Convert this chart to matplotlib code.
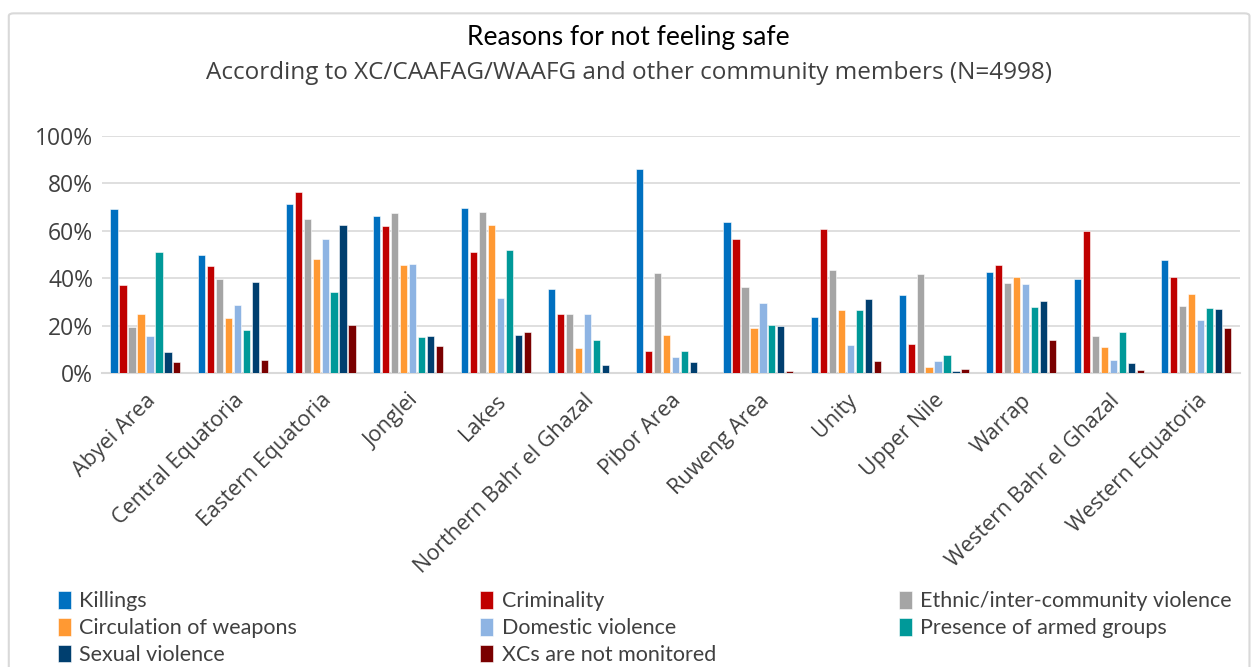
import matplotlib.pyplot as plt
import numpy as np
from matplotlib.patches import FancyBboxPatch

# regions on the x axis
regions = ['Abyei Area', 'Central Equatoria', 'Eastern Equatoria', 'Jonglei', 'Lakes',
           'Northern Bahr el Ghazal', 'Pibor Area', 'Ruweng Area', 'Unity', 'Upper Nile',
           'Warrap', 'Western Bahr el Ghazal', 'Western Equatoria']

# % of respondents per reason
killings   = [69.3, 49.7, 71.1, 66.1, 69.6, 35.4, 86.1, 63.6, 23.6, 32.8, 42.6, 39.7, 47.8]
criminal   = [37.0, 45.2, 76.4, 62.1, 50.9, 24.8,  9.4, 56.6, 60.6, 12.3, 45.6, 59.9, 40.5]
ethnic     = [19.6, 39.7, 64.9, 67.3, 67.9, 24.8, 42.1, 36.3, 43.6, 41.8, 38.1, 15.6, 28.5]
weapons    = [25.1, 23.3, 48.0, 45.5, 62.3, 10.5, 16.0, 19.1, 26.6,  2.5, 40.4, 10.9, 33.4]
domestic   = [15.8, 28.6, 56.5, 45.9, 31.7, 24.8,  6.9, 29.5, 12.0,  5.2, 37.5,  5.5, 22.6]
armed      = [50.9, 18.2, 34.1, 15.3, 51.8, 14.0,  9.4, 20.2, 26.6,  7.8, 27.8, 17.4, 27.5]
sexual     = [ 8.8, 38.4, 62.5, 15.6, 16.2,  3.4,  4.9, 19.8, 31.3,  0.8, 30.4,  4.2, 27.1]
monitored  = [ 4.9,  5.5, 20.2, 11.4, 17.3,  0.0,  0.0,  0.8,  5.2,  1.7, 13.9,  1.3, 19.1]

series = [
    ('Killings', killings, '#0070C0'),
    ('Criminality', criminal, '#C00000'),
    ('Ethnic/inter-community violence', ethnic, '#A5A5A5'),
    ('Circulation of weapons', weapons, '#FF9933'),
    ('Domestic violence', domestic, '#8EB4E3'),
    ('Presence of armed groups', armed, '#009999'),
    ('Sexual violence', sexual, '#003F6F'),
    ('XCs are not monitored', monitored, '#7A0000'),
]

fig = plt.figure(figsize=(12.57, 6.67), dpi=100)
fig.patches.append(FancyBboxPatch((0.007, -0.02), 0.987, 1.0, boxstyle='round,pad=0,rounding_size=0.004',
                                  transform=fig.transFigure, fill=False, edgecolor='#D9D9D9', lw=1.5))

ax = fig.add_axes([0.0809, 0.4403, 0.9056, 0.3563])
x = np.arange(len(regions))
slot = 0.1025
for i, (name, vals, col) in enumerate(series):
    ax.bar(x + (i - 3.5) * slot, vals, width=slot * 0.8, color=col, label=name,
           edgecolor='white', linewidth=0.4, zorder=3)

ax.set_ylim(0, 100)
ax.set_xlim(-0.5, len(regions) - 0.5)
ax.set_yticks(range(0, 101, 20))
ax.set_yticklabels([f'{v}%' for v in range(0, 101, 20)], fontsize=16.5, color='#404040',
                   family='Open Sans')
ax.set_xticks(x)
ax.set_xticklabels(regions, rotation=45, ha='right', rotation_mode='anchor', fontsize=15.5,
                   color='#404040', family='Open Sans')
ax.tick_params(length=0, pad=6)
ax.tick_params(axis='x', pad=12)
ax.grid(axis='y', color='#D9D9D9', lw=1.2, zorder=0)
for s in ['top', 'right', 'left']:
    ax.spines[s].set_visible(False)
ax.spines['bottom'].set_color('#D9D9D9')
ax.spines['bottom'].set_linewidth(1.5)

fig.text(0.5, 0.944, 'Reasons for not feeling safe', ha='center', va='center', fontsize=19,
         family='Lato', color='black')
fig.text(0.5, 0.891, 'According to XC/CAAFAG/WAAFG and other community members (N=4998)',
         ha='center', va='center', fontsize=17.5, family='Open Sans', color='#404040')

handles, labels = ax.get_legend_handles_labels()
order = [0, 3, 6, 1, 4, 7, 2, 5]
fig.legend([handles[i] for i in order], [labels[i] for i in order], ncol=3, mode='expand',
           bbox_to_anchor=(0.0305, -0.026, 0.965, 0.145), loc='lower left', frameon=False,
           handlelength=0.6, handleheight=0.9, handletextpad=0.4, labelspacing=0.3,
           prop={'family': 'Lato', 'size': 15.5}, labelcolor='#404040')

fig.savefig('out.png', dpi=100)
